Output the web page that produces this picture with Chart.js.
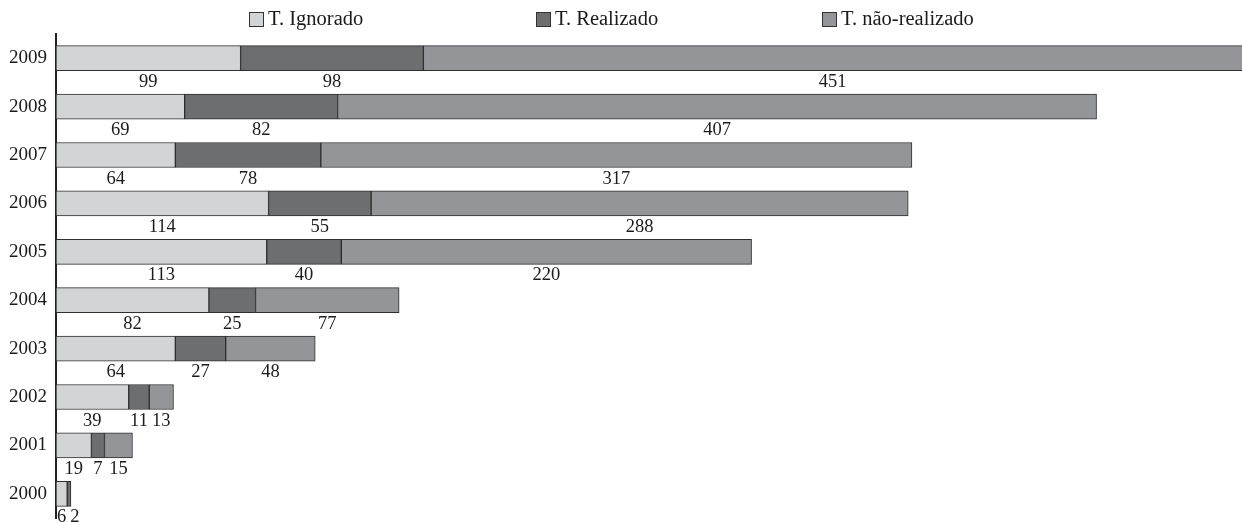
<!DOCTYPE html>
<html>
<head>
<meta charset="utf-8">
<script src="https://cdn.jsdelivr.net/npm/chart.js@4.4.0/dist/chart.umd.min.js"></script>
<style>
html,body{margin:0;padding:0;background:#fff;}
#wrap{width:1242px;height:522px;position:relative;}
</style>
</head>
<body>
<div id="wrap"><canvas id="c" width="1242" height="522"></canvas></div>
<script>
const years = ['2009','2008','2007','2006','2005','2004','2003','2002','2001','2000'];
const ignorado = [99, 69, 64, 114, 113, 82, 64, 39, 19, 6];
const realizado = [98, 82, 78, 55, 40, 25, 27, 11, 7, 2];
const naoRealizado = [451, 407, 317, 288, 220, 77, 48, 13, 15, 0];
const seriesNames = ['T. Ignorado', 'T. Realizado', 'T. não-realizado'];
const seriesColors = ['#d3d4d6', '#6d6e70', '#939598'];

const FONT = '"Liberation Serif", "Times New Roman", serif';
const TEXT = '#1c1a1b';

const legendPlugin = {
  id: 'customLegend',
  afterDraw(chart) {
    const ctx = chart.ctx;
    const xs = [249, 536, 822];
    ctx.save();
    ctx.font = '20.5px ' + FONT;
    ctx.textBaseline = 'middle';
    ctx.textAlign = 'left';
    seriesNames.forEach((n, i) => {
      const x = xs[i];
      ctx.fillStyle = seriesColors[i];
      ctx.fillRect(x, 12, 15, 15);
      ctx.strokeStyle = '#333';
      ctx.lineWidth = 1;
      ctx.strokeRect(x + 0.5, 12.5, 14, 14);
      ctx.fillStyle = TEXT;
      ctx.fillText(n, x + 19, 20);
    });
    ctx.restore();
  }
};

const valueLabels = {
  id: 'valueLabels',
  afterDatasetsDraw(chart) {
    const ctx = chart.ctx;
    const area = chart.chartArea;
    ctx.save();
    ctx.font = '18.5px ' + FONT;
    ctx.fillStyle = TEXT;
    ctx.textAlign = 'center';
    ctx.textBaseline = 'top';
    const lastRight = {};
    chart.data.datasets.forEach((ds, di) => {
      const meta = chart.getDatasetMeta(di);
      meta.data.forEach((el, i) => {
        const v = ds.data[i];
        if (!v) return;
        const p = el.getProps(['x', 'y', 'base', 'height'], true);
        const l = Math.max(Math.min(p.base, p.x), area.left);
        const r = Math.min(Math.max(p.base, p.x), area.right);
        const txt = String(v);
        const w = ctx.measureText(txt).width;
        let cx = (l + r) / 2;
        if (cx - w / 2 < area.left + 1) cx = area.left + 1 + w / 2;
        if (lastRight[i] !== undefined && cx - w / 2 < lastRight[i] + 4) cx = lastRight[i] + 4 + w / 2;
        lastRight[i] = cx + w / 2;
        ctx.fillText(txt, cx, p.y + p.height / 2 + 2);
      });
    });
    ctx.restore();
  }
};

const mk = (label, data, color) => ({
  label, data,
  backgroundColor: color,
  borderColor: '#2e2e2e',
  borderWidth: 1,
  borderSkipped: false,
  barThickness: 25
});

new Chart(document.getElementById('c'), {
  type: 'bar',
  data: {
    labels: years,
    datasets: [
      mk(seriesNames[0], ignorado, seriesColors[0]),
      mk(seriesNames[1], realizado, seriesColors[1]),
      mk(seriesNames[2], naoRealizado, seriesColors[2])
    ]
  },
  options: {
    indexAxis: 'y',
    responsive: false,
    animation: false,
    devicePixelRatio: 1,
    layout: { padding: { top: 34, bottom: 4, left: 0, right: 0 } },
    plugins: { legend: { display: false }, tooltip: { enabled: false } },
    scales: {
      x: { stacked: true, display: false, min: 0, max: 636 },
      y: {
        stacked: true,
        grid: { display: false, drawTicks: false },
        border: { display: true, color: '#222', width: 2 },
        ticks: { color: TEXT, font: { family: FONT, size: 19 }, padding: 9 },
        afterFit(scale) { scale.width = 56; scale.paddingTop = 0; scale.paddingBottom = 0; }
      }
    }
  },
  plugins: [legendPlugin, valueLabels]
});
</script>
</body>
</html>
